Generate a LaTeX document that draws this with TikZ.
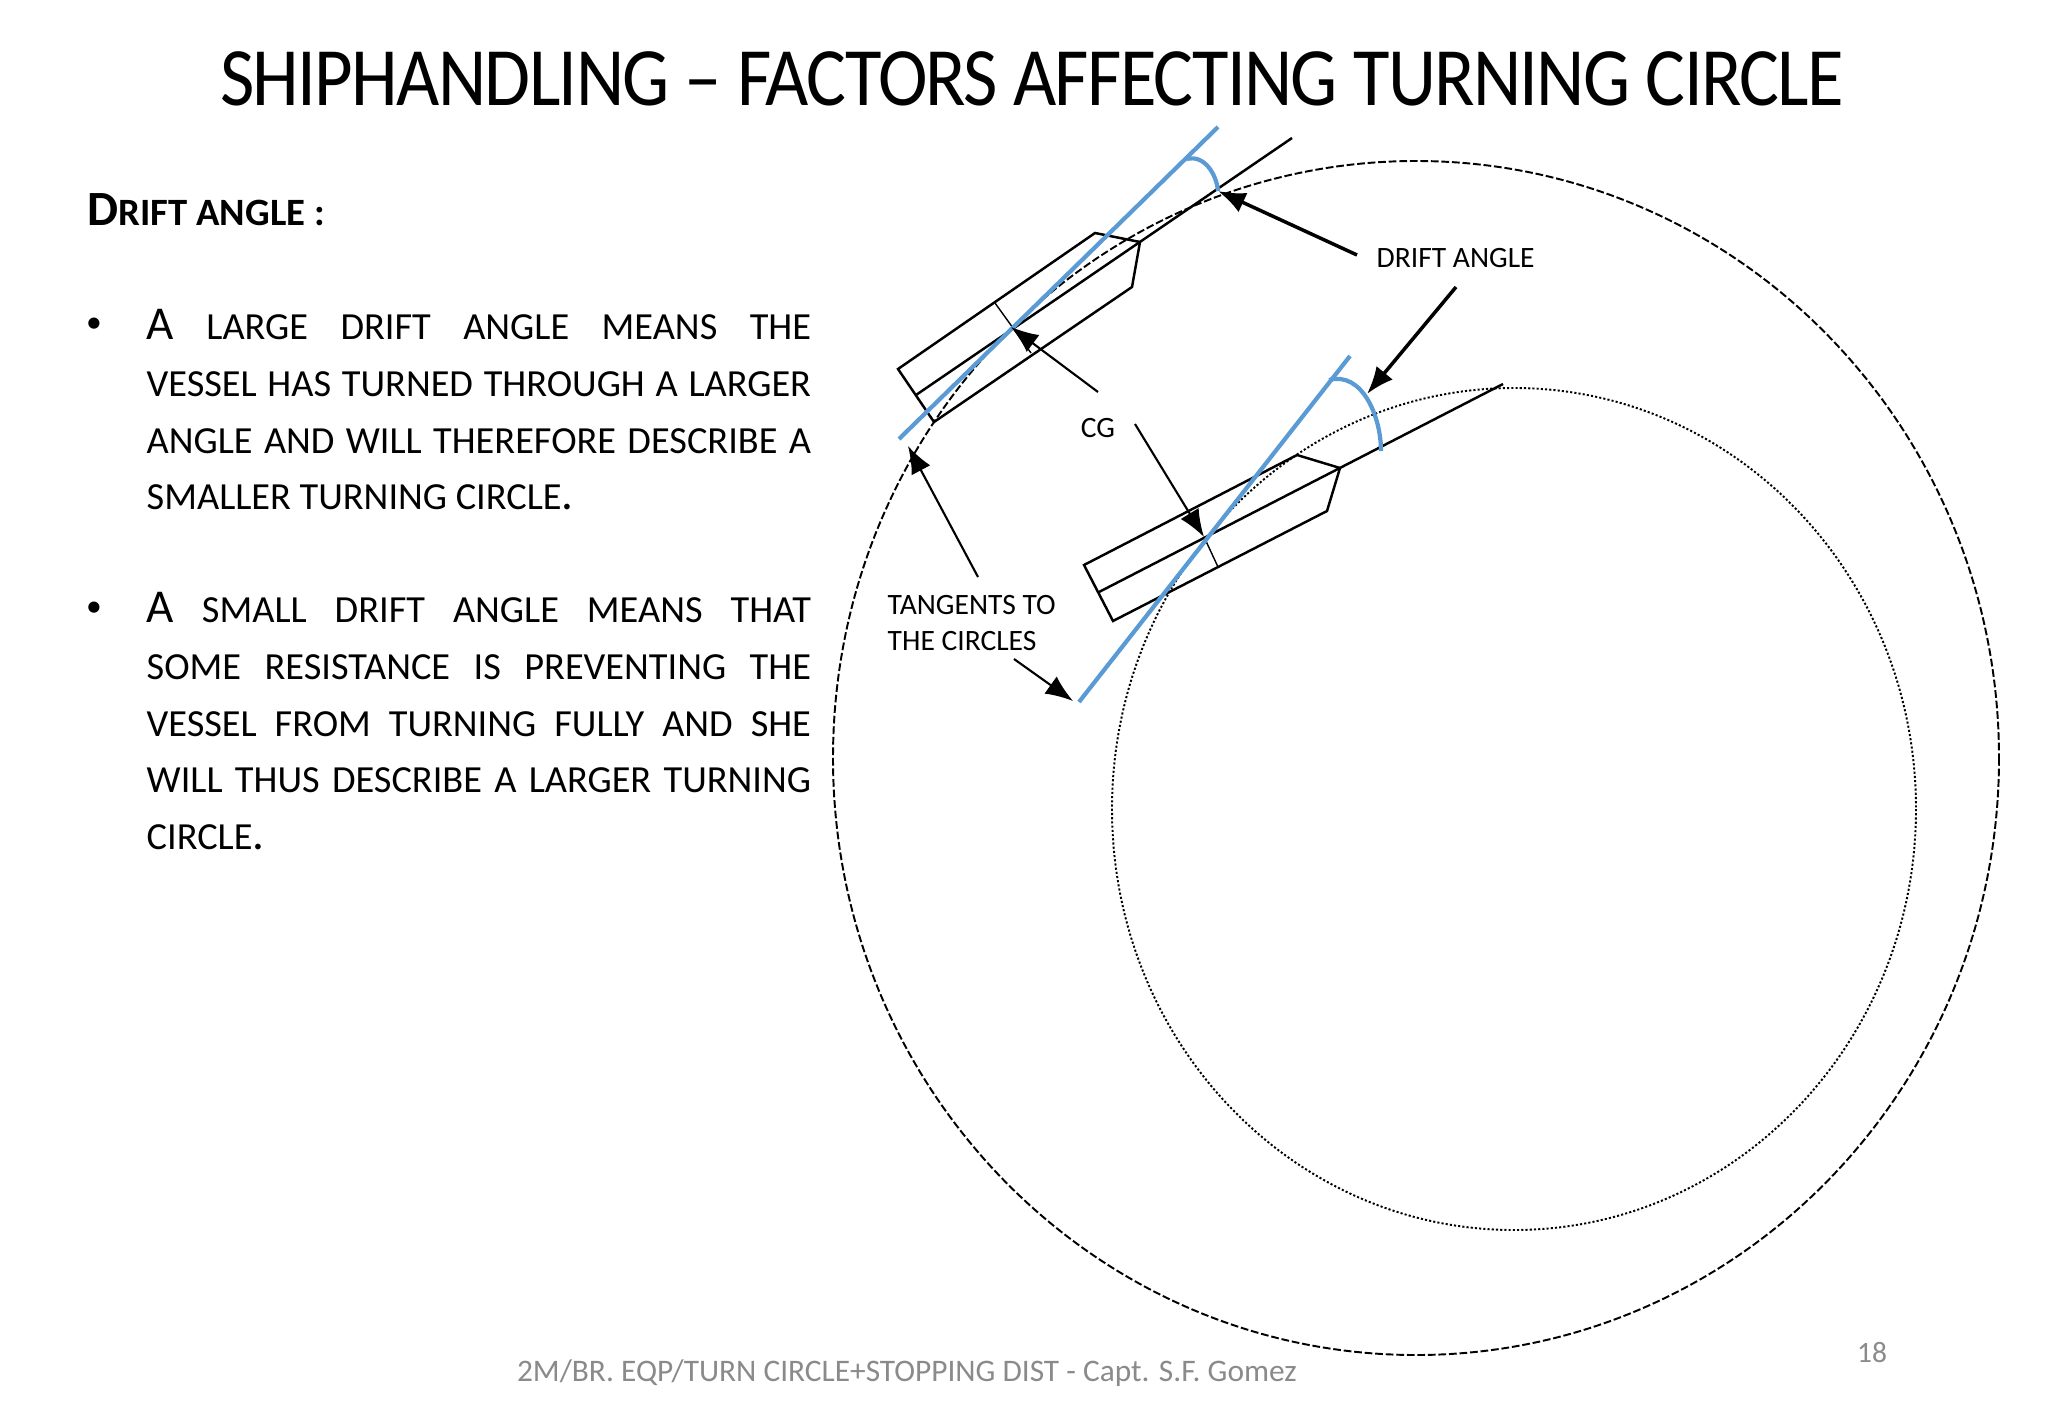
\documentclass[tikz,border=0pt]{standalone}
\usepackage{fontspec}
\usepackage{color}
\usetikzlibrary{arrows.meta}
\setmainfont{Carlito}
\definecolor{tangentblue}{HTML}{5B9BD5}
\definecolor{footgrey}{HTML}{8A8A8A}
\newcommand{\bigA}{{\fontsize{13.4pt}{16pt}\selectfont A}}
\newcommand{\bigdot}{{\fontsize{13.4pt}{16pt}\selectfont .}}
\tikzset{
  hull/.style={draw=black, line width=0.7pt, line join=miter},
  tangent/.style={draw=tangentblue, line width=1.2pt},
  pointer/.style={draw=black, line width=0.6pt, -{Latex[length=7.8pt,width=6pt]}},
  pointerb/.style={draw=black, line width=1pt, -{Latex[length=7.8pt,width=6pt]}},
  label/.style={font=\fontsize{8.4pt}{10.2pt}\selectfont, inner sep=0pt, align=left},
  bodytext/.style={font=\fontsize{10.9pt}{16.1pt}\selectfont, text width=6.64cm, align=justify, inner sep=0pt, anchor=north west}
}
\begin{document}
\begin{tikzpicture}[x=0.01cm, y=-0.01cm]
\useasboundingbox (0,0) rectangle (2048,1418);

% text
\node[font=\fontsize{23.6pt}{28pt}\selectfont\addfontfeature{FakeStretch=0.9,LetterSpace=-2}, inner sep=0pt](title) at (1032,79) {SHIPHANDLING -- FACTORS AFFECTING TURNING CIRCLE};
\node[font=\fontsize{11pt}{12pt}\bfseries\selectfont, inner sep=0pt, anchor=base west](head) at (87,225) {{\fontsize{14pt}{12pt}\selectfont D}RIFT ANGLE :};
\node[font=\fontsize{9pt}{12pt}\selectfont, inner sep=0pt](bullet1) at (94,325) {\textbullet};
\node[font=\fontsize{9pt}{12pt}\selectfont, inner sep=0pt](bullet2) at (94,609) {\textbullet};
\node[bodytext](para1) at (146,309) {\bigA{} LARGE DRIFT ANGLE MEANS THE\linebreak VESSEL HAS TURNED THROUGH A LARGER\linebreak ANGLE AND WILL THEREFORE DESCRIBE A\linebreak SMALLER TURNING CIRCLE\bigdot};
\node[bodytext](para2) at (146,592) {\bigA{} SMALL DRIFT ANGLE MEANS THAT\linebreak SOME RESISTANCE IS PREVENTING THE\linebreak VESSEL FROM TURNING FULLY AND SHE\linebreak WILL THUS DESCRIBE A LARGER TURNING\linebreak CIRCLE\bigdot};
\node[font=\fontsize{8.92pt}{10pt}\selectfont, text=footgrey, inner sep=0pt](foot) at (907,1373) {2M/BR. EQP/TURN CIRCLE+STOPPING DIST - Capt. S.F. Gomez};
\node[font=\fontsize{8.4pt}{10pt}\selectfont, text=footgrey, inner sep=0pt](page) at (1872,1353) {18};

% labels
\node[label, anchor=west](drift) at (1376,258) {DRIFT ANGLE};
\node[label, anchor=center](cg) at (1098,428) {CG};
\node[label, anchor=north west](tan) at (887,595) {TANGENTS TO\\THE CIRCLES};

% turning circles
\coordinate (outer) at (1416,758);
\coordinate (inner) at (1514,809);
\draw[line width=0.55pt, dash pattern=on 2.2pt off 0.8pt] (outer) ellipse [x radius=583, y radius=597];
\draw[line width=0.55pt, dash pattern=on 0.6pt off 0.6pt] (inner) ellipse [x radius=402, y radius=421];

% first vessel
\coordinate (a1) at (898,369);
\coordinate (a2) at (1095,233);
\coordinate (a3) at (1140,242);
\coordinate (a4) at (1132,287);
\coordinate (a5) at (934,422);
\coordinate (a6) at (916,395);
\coordinate (a7) at (1292,138);
\coordinate (a8) at (995,303);
\coordinate (a9) at (1031,353);
\coordinate (t1) at (899,439);
\coordinate (t2) at (1218,127);
\coordinate (r1) at (1187,159);
\coordinate (r2) at (1218,191);
\draw[hull] (a1) -- (a2) -- (a3) -- (a4) -- (a5) -- cycle;
\path (a6) edge[hull] (a7);
\path (a8) edge[draw=black, line width=0.4pt] (a9);
\path (t1) edge[tangent] (t2);
\draw[tangent] (r1) to[out=15, in=95] (r2);

% second vessel
\coordinate (b1) at (1084,565);
\coordinate (b2) at (1297,455);
\coordinate (b3) at (1340,468);
\coordinate (b4) at (1327,511);
\coordinate (b5) at (1113,621);
\coordinate (b6) at (1099,592);
\coordinate (b7) at (1503,384);
\coordinate (b8) at (1205,539);
\coordinate (b9) at (1218,567);
\coordinate (u1) at (1079,702);
\coordinate (u2) at (1350,356);
\coordinate (v1) at (1329,380);
\coordinate (v2) at (1381,451);
\draw[hull] (b1) -- (b2) -- (b3) -- (b4) -- (b5) -- cycle;
\path (b6) edge[hull] (b7);
\path (b8) edge[draw=black, line width=0.4pt] (b9);
\path (u1) edge[tangent] (u2);
\draw[tangent] (v1) to[out=15, in=90] (v2);

% pointers
\coordinate (d1) at (1357,255);
\coordinate (d2) at (1456,287);
\coordinate (d3) at (1367,394);
\coordinate (c1) at (1098,392);
\coordinate (c2) at (1011,327);
\coordinate (c3) at (1135,424);
\coordinate (c4) at (1204,537);
\coordinate (e1) at (978,577);
\coordinate (e2) at (908,446);
\coordinate (e3) at (1014,659);
\coordinate (e4) at (1073,701);
\path (d1) edge[pointerb] (r2);
\path (d2) edge[pointerb] (d3);
\path (c1) edge[pointer] (c2);
\path (c3) edge[pointer] (c4);
\path (e1) edge[pointer] (e2);
\path (e3) edge[pointer] (e4);
\end{tikzpicture}
\end{document}
